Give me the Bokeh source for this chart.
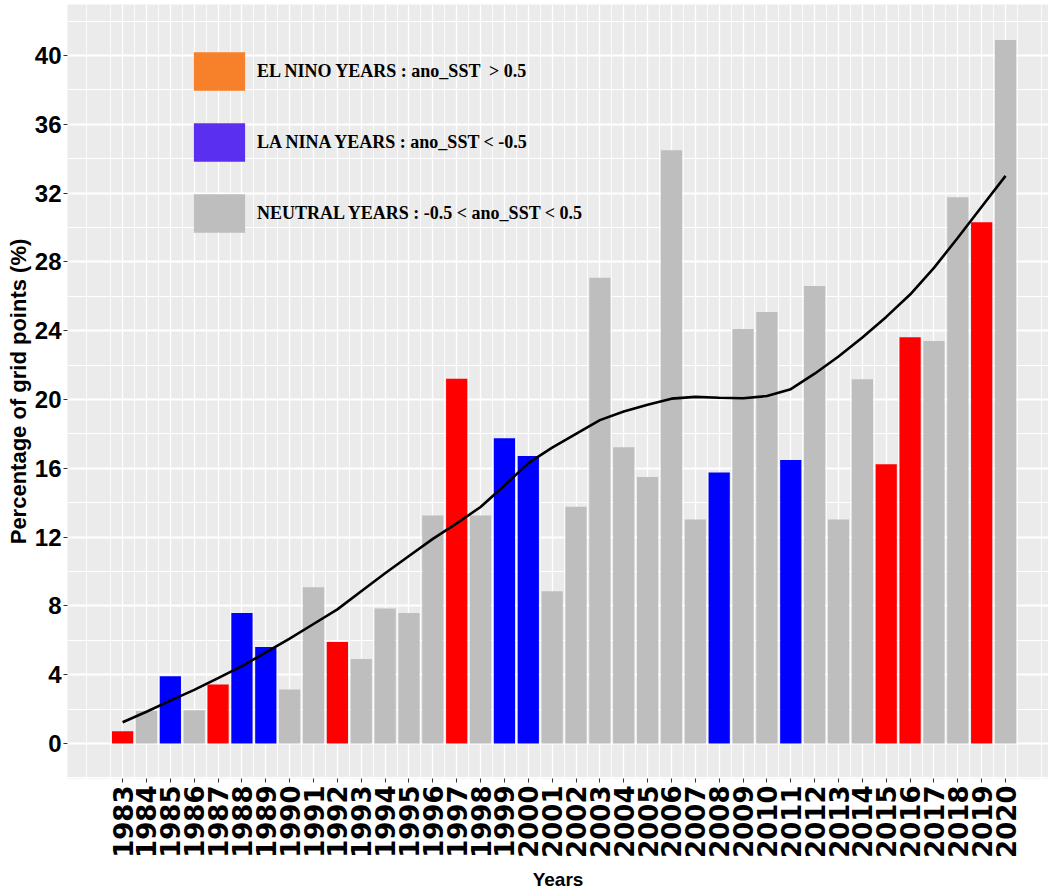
import math
from bokeh.plotting import figure
from bokeh.models import FixedTicker, Range1d, ColumnDataSource, Legend, LegendItem
from bokeh.embed import file_html
from bokeh.resources import INLINE

# ---------------- data ----------------
years = list(range(1983, 2021))
pct = [0.71, 1.9, 3.91, 1.93, 3.43, 7.59, 5.62, 3.14, 9.08, 5.9,
       4.92, 7.85, 7.59, 13.26, 21.2, 13.26, 17.75, 16.72, 8.85, 13.76,
       27.08, 17.23, 15.5, 34.49, 13.03, 15.76, 24.1, 25.09, 16.49, 26.6,
       13.03, 21.18, 16.24, 23.62, 23.4, 31.75, 30.3, 40.9]
enso = ["EL", "N", "LA", "N", "EL", "LA", "LA", "N", "N", "EL",
        "N", "N", "N", "N", "EL", "N", "LA", "LA", "N", "N",
        "N", "N", "N", "N", "N", "LA", "N", "N", "LA", "N",
        "N", "N", "EL", "EL", "N", "N", "EL", "N"]
trend = [1.24, 1.85, 2.5, 3.12, 3.8, 4.5, 5.3, 6.1, 6.95, 7.8,
         8.85, 9.9, 10.9, 11.9, 12.8, 13.75, 15.0, 16.3, 17.2, 18.0,
         18.8, 19.3, 19.7, 20.05, 20.15, 20.1, 20.07, 20.2, 20.6, 21.5,
         22.5, 23.6, 24.8, 26.1, 27.65, 29.4, 31.2, 33.0]
y_ticks = [0, 4, 8, 12, 16, 20, 24, 28, 32, 36, 40]
legend_labels = ["EL NINO YEARS : ano_SST  > 0.5",
                 "LA NINA YEARS : ano_SST < -0.5",
                 "NEUTRAL YEARS : -0.5 < ano_SST < 0.5"]

# ---------------- styles ----------------
bar_colors = {"EL": "#FF0000", "LA": "#0000FF", "N": "#BEBEBE"}
legend_colors = ["#F7802A", "#5B2FF0", "#BEBEBE"]

src = ColumnDataSource(dict(x=years, top=pct, color=[bar_colors[e] for e in enso]))

p = figure(width=1048, height=892, output_backend="svg", toolbar_location=None,
           x_range=Range1d(1980.69, 2021.80), y_range=Range1d(-2.03, 42.96),
           min_border_left=67, min_border_right=0, min_border_top=4,
           min_border_bottom=100)
p.background_fill_color = "#EBEBEB"
p.border_fill_color = "white"
p.outline_line_color = None

p.vbar(x="x", top="top", bottom=0, width=0.89, color="color", source=src, line_color=None)
p.line(years, trend, line_color="black", line_width=2.6)

# grids
p.xgrid.ticker = FixedTicker(ticks=years, minor_ticks=[y + 0.5 for y in range(1980, 2022)])
p.xgrid.grid_line_color = "white"
p.xgrid.grid_line_width = 1.3
p.xgrid.minor_grid_line_color = "white"
p.xgrid.minor_grid_line_width = 0.8
p.ygrid.ticker = FixedTicker(ticks=y_ticks, minor_ticks=[t + 2 for t in range(-4, 44, 4)])
p.ygrid.grid_line_color = "white"
p.ygrid.grid_line_width = 2
p.ygrid.minor_grid_line_color = "white"
p.ygrid.minor_grid_line_width = 1

# axes
xa = p.xaxis[0]
xa.ticker = FixedTicker(ticks=years)
xa.major_label_orientation = math.pi / 2
xa.major_label_text_font = "DejaVu Sans"
xa.major_label_text_font_style = "bold"
xa.major_label_text_font_size = "26px"
xa.major_label_text_color = "black"
xa.major_label_standoff = 3
xa.axis_line_color = None
xa.major_tick_line_color = "#333333"
xa.major_tick_in = 0
xa.major_tick_out = 4
xa.minor_tick_line_color = None
xa.axis_label = "Years"
xa.axis_label_text_font = "Liberation Sans"
xa.axis_label_text_font_style = "bold"
xa.axis_label_text_font_size = "19px"
xa.axis_label_text_color = "black"
xa.axis_label_standoff = 8

ya = p.yaxis[0]
ya.ticker = FixedTicker(ticks=y_ticks)
ya.major_label_text_font = "Liberation Sans"
ya.major_label_text_font_style = "bold"
ya.major_label_text_font_size = "24px"
ya.major_label_text_color = "black"
ya.major_label_standoff = 2
ya.axis_line_color = None
ya.major_tick_line_color = "#333333"
ya.major_tick_in = 0
ya.major_tick_out = 4
ya.minor_tick_line_color = None
ya.axis_label = "Percentage of grid points (%)"
ya.axis_label_text_font = "Liberation Sans"
ya.axis_label_text_font_style = "bold"
ya.axis_label_text_font_size = "22px"
ya.axis_label_text_color = "black"
ya.axis_label_standoff = 1

# legend (own colours, as in the original figure); zero-height proxy bars
items = []
for lab, col in zip(legend_labels, legend_colors):
    r = p.vbar(x=[years[0]], top=[0], bottom=[0], width=0.9, fill_color=col, line_color=None)
    items.append(LegendItem(label=lab, renderers=[r]))
leg = Legend(items=items, location=(120, 541), glyph_width=64, glyph_height=48,
             spacing=23, label_standoff=6, padding=0, margin=0,
             background_fill_alpha=0, border_line_color=None,
             label_text_font="Liberation Serif", label_text_font_style="bold",
             label_text_font_size="18px", label_text_color="black")
p.add_layout(leg)

open("out.html", "w").write(file_html(p, INLINE))
